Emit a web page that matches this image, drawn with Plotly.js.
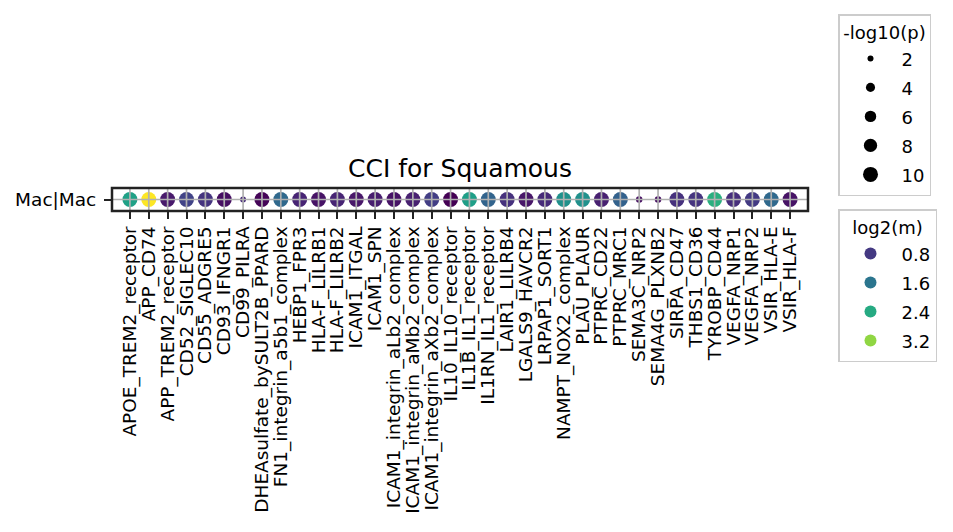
<!DOCTYPE html>
<html><head><meta charset="utf-8">
<script src="https://cdn.plot.ly/plotly-3.0.1.min.js"></script>
<style>html,body{margin:0;padding:0;background:#fff}</style>
</head><body>
<div id="chart" style="width:953px;height:532px"></div>
<script>
// ---- data ----
const interactions = [
  'APOE_TREM2_receptor','APP_CD74','APP_TREM2_receptor','CD52_SIGLEC10','CD55_ADGRE5',
  'CD93_IFNGR1','CD99_PILRA','DHEAsulfate_bySULT2B_PPARD','FN1_integrin_a5b1_complex',
  'HEBP1_FPR3','HLA-F_LILRB1','HLA-F_LILRB2','ICAM1_ITGAL','ICAM1_SPN',
  'ICAM1_integrin_aLb2_complex','ICAM1_integrin_aMb2_complex','ICAM1_integrin_aXb2_complex',
  'IL10_IL10_receptor','IL1B_IL1_receptor','IL1RN_IL1_receptor','LAIR1_LILRB4',
  'LGALS9_HAVCR2','LRPAP1_SORT1','NAMPT_NOX2_complex','PLAU_PLAUR','PTPRC_CD22',
  'PTPRC_MRC1','SEMA3C_NRP2','SEMA4G_PLXNB2','SIRPA_CD47','THBS1_CD36','TYROBP_CD44',
  'VEGFA_NRP1','VEGFA_NRP2','VSIR_HLA-E','VSIR_HLA-F'
];
const rowLabel = 'Mac|Mac';
const log2m = [
  2.25, 3.80, 0.45, 0.92, 0.74, 0.34, 0.63, 0.24, 1.42,
  0.56, 0.38, 0.56, 0.42, 0.49, 0.38, 0.52, 0.85,
  0.20, 2.22, 1.35, 0.70, 0.42, 0.63, 2.00, 2.00, 0.52,
  1.32, 0.34, 0.34, 0.70, 0.74, 2.48, 0.67, 0.81, 1.42, 0.38
];
const negLog10p = [
  10, 10, 10, 10, 10, 10, 2.0, 10, 10,
  10, 10, 10, 10, 10, 10, 10, 10,
  10, 10, 10, 10, 10, 10, 10, 10, 10,
  10, 2.3, 2.3, 10, 10, 10, 10, 10, 10, 10
];
const sizeLegendValues = [2, 4, 6, 8, 10];
const colorLegendValues = [0.8, 1.6, 2.4, 3.2];

// ---- styles / scales ----
const FONT = 'DejaVu Sans, sans-serif';
const viridis = [[0,'#440154'],[0.06274509803921569,'#48186a'],[0.12549019607843137,'#472d7b'],
  [0.18823529411764706,'#424086'],[0.25098039215686274,'#3b528b'],[0.3137254901960784,'#33638d'],
  [0.3764705882352941,'#2c728e'],[0.4392156862745098,'#26828e'],[0.5019607843137255,'#21918c'],
  [0.5647058823529412,'#1fa088'],[0.6274509803921569,'#28ae80'],[0.6901960784313725,'#3fbc73'],
  [0.7529411764705882,'#5ec962'],[0.8156862745098039,'#84d44b'],[0.8784313725490196,'#addc30'],
  [0.9411764705882353,'#d8e219'],[1,'#fde725']];
function hex2rgb(h){return [1,3,5].map(i=>parseInt(h.substr(i,2),16));}
function viridisAt(t){
  t=Math.max(0,Math.min(1,t));
  for(let i=1;i<viridis.length;i++){
    if(t<=viridis[i][0]){
      const a=viridis[i-1], b=viridis[i], f=(t-a[0])/(b[0]-a[0]);
      const ca=hex2rgb(a[1]), cb=hex2rgb(b[1]);
      const c=ca.map((v,k)=>Math.round(v+(cb[k]-v)*f));
      return 'rgb('+c.join(',')+')';
    }
  }
  return viridis[viridis.length-1][1];
}
const cmin = Math.min(...log2m), cmax = Math.max(...log2m);
function diam(v){ return Math.sqrt(Math.max(23.6*v - 11.25, 4)); }

const traces = [{
  type:'scatter', mode:'markers',
  x: interactions, y: interactions.map(()=>rowLabel),
  marker:{color: log2m, colorscale: viridis, cmin: cmin, cmax: cmax,
          size: negLog10p.map(diam), line:{width:0}, opacity:1},
  showlegend:false
}];
sizeLegendValues.forEach(v => traces.push({
  type:'scatter', mode:'markers', x:[null], y:[null],
  name:'<span style="font-size:18px">'+v+'</span>',
  marker:{color:'black', size: diam(v), line:{width:0}},
  legend:'legend', showlegend:true
}));
colorLegendValues.forEach(v => traces.push({
  type:'scatter', mode:'markers', x:[null], y:[null],
  name:'<span style="font-size:18px">'+v.toFixed(1)+'</span>',
  marker:{color: viridisAt((v-cmin)/(cmax-cmin)), size: 12, line:{width:0}},
  legend:'legend2', showlegend:true
}));

const shapes = interactions.map((c,i)=>({type:'line', xref:'x', yref:'paper', x0:i, x1:i, y0:0, y1:1,
  line:{color:'#b0b0b0', width:1.7}, layer:'above'}));
shapes.push({type:'line', xref:'paper', yref:'y', x0:0, x1:1, y0:0, y1:0,
  line:{color:'#b0b0b0', width:1.7}, layer:'above'});
shapes.push({type:'rect', xref:'paper', yref:'paper', x0:0, x1:1, y0:0, y1:1,
  line:{color:'#222222', width:2.5}, layer:'above'});

const legendCommon = {
  xref:'container', yref:'container', xanchor:'left', yanchor:'top',
  bordercolor:'#cccccc', borderwidth:1.5, bgcolor:'#ffffff',
  font:{family:FONT, size:20, color:'#000'}, itemsizing:'trace', tracegroupgap:0,
  itemwidth:52
};

const layout = {
  width:953, height:532,
  margin:{l:112, r:145, t:188, b:321, pad:0},
  paper_bgcolor:'#ffffff', plot_bgcolor:'#ffffff',
  font:{family:FONT, color:'#000'},
  title:{text:'CCI for Squamous', font:{family:FONT, size:25, color:'#000'},
         x:0.4827, xanchor:'center', xref:'container', y:0.684, yref:'container', yanchor:'middle'},
  xaxis:{type:'category', range:[-0.95, interactions.length-0.05], showgrid:false, zeroline:false,
         showline:false, ticks:'outside', ticklen:7, tickwidth:2, tickcolor:'#222222',
         tickmode:'array', tickvals: interactions, ticktext: interactions,
         tickangle:-90, tickfont:{family:FONT, size:18.5, color:'#000'}, fixedrange:true},
  yaxis:{type:'category', range:[-0.5, 0.5], showgrid:false, zeroline:false, showline:false,
         ticks:'outside', ticklen:7, tickwidth:2, tickcolor:'#222222', ticklabelstandoff:4,
         tickfont:{family:FONT, size:18.5, color:'#000'}, fixedrange:true},
  shapes: shapes,
  legend: Object.assign({}, legendCommon, {x:838/953, y:1-14/532,
          title:{text:'-log10(p)', side:'top center', font:{family:FONT, size:18, color:'#000'}}}),
  legend2: Object.assign({}, legendCommon, {x:838/953, y:1-209/532,
          title:{text:'log2(m)', side:'top center', font:{family:FONT, size:18, color:'#000'}}}),
  showlegend:true
};
Plotly.newPlot('chart', traces, layout, {displayModeBar:false, staticPlot:true});
</script>
</body></html>
